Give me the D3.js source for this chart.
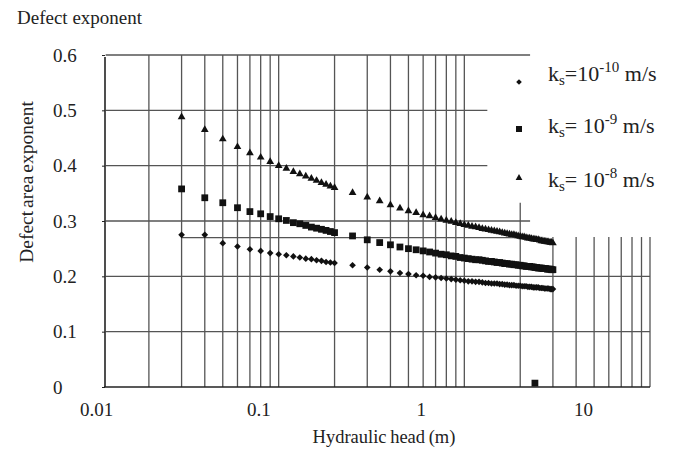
<!DOCTYPE html>
<html>
<head>
<meta charset="utf-8">
<script src="https://cdn.jsdelivr.net/npm/d3@7"></script>
<style>
  body { margin: 0; background: #fff; }
  text { font-family: "Liberation Serif", "Times New Roman", serif; fill: #222; }
</style>
</head>
<body>
<script>

//******************************************************************************
// Data ************************************************************************

    // hydraulic head (m)
    var headValues = [
      0.03,0.04,0.05,0.06,0.07,0.08,0.09,0.10,
      0.11,0.12,0.13,0.14,0.15,0.16,0.17,0.18,0.19,0.20,
      0.25,0.30,0.35,0.40,0.45,0.50,0.55,0.60,0.65,0.70,0.75,0.80,0.85,0.90,0.95,1.00,
      1.05,1.10,1.15,1.20,1.25,1.30,1.35,1.40,1.45,1.50,1.55,1.60,1.65,1.70,1.75,1.80,1.85,1.90,1.95,2.00,
      2.05,2.10,2.15,2.20,2.25,2.30,2.35,2.40,2.45,2.50,2.55,2.60,2.65,2.70,2.75,2.80,2.85,2.90,2.95,3.00
    ];

    // defect area exponent, ks = 1e-10 m/s
    var exponentKs10 = [
      0.275,0.275,0.260,0.254,0.249,0.246,0.242,0.240,
      0.238,0.236,0.234,0.232,0.231,0.229,0.228,0.226,0.225,0.224,
      0.220,0.216,0.212,0.209,0.206,0.204,0.202,0.201,0.199,0.198,0.197,0.196,0.195,0.194,0.193,0.192,
      0.191,0.191,0.190,0.190,0.189,0.188,0.188,0.187,0.187,0.187,0.186,0.186,0.185,0.185,0.184,0.184,0.184,0.183,0.183,0.183,
      0.182,0.182,0.182,0.181,0.181,0.181,0.180,0.180,0.180,0.180,0.179,0.179,0.179,0.178,0.178,0.178,0.178,0.177,0.177,0.177
    ];

    // ks = 1e-9 m/s
    var exponentKs9 = [
      0.358,0.342,0.333,0.324,0.317,0.313,0.308,0.304,
      0.301,0.297,0.295,0.292,0.289,0.287,0.285,0.283,0.281,0.279,
      0.273,0.266,0.261,0.257,0.253,0.250,0.248,0.246,0.244,0.242,0.240,0.239,0.237,0.236,0.234,0.233,
      0.232,0.231,0.230,0.230,0.229,0.228,0.227,0.227,0.226,0.225,0.225,0.224,0.223,0.223,0.222,0.222,0.221,0.221,0.220,0.220,
      0.219,0.219,0.218,0.218,0.218,0.217,0.217,0.216,0.216,0.215,0.215,0.215,0.214,0.214,0.214,0.213,0.213,0.213,0.212,0.212
    ];

    // ks = 1e-8 m/s
    var exponentKs8 = [
      0.488,0.465,0.448,0.434,0.423,0.415,0.407,0.400,
      0.395,0.389,0.385,0.381,0.377,0.373,0.369,0.366,0.363,0.360,
      0.351,0.343,0.336,0.329,0.323,0.318,0.315,0.311,0.309,0.306,0.303,0.301,0.299,0.297,0.295,0.293,
      0.292,0.290,0.289,0.288,0.286,0.285,0.284,0.283,0.282,0.281,0.280,0.279,0.278,0.277,0.276,0.275,0.275,0.274,0.273,0.272,
      0.271,0.271,0.270,0.269,0.269,0.268,0.267,0.267,0.266,0.266,0.265,0.264,0.264,0.263,0.263,0.262,0.262,0.261,0.261,0.260
    ];

    // lone square near the x axis
    var strayHead = [2.4];
    var strayExponent = [0.007];

    var seriesExponents = ["-10", "-9", "-8"];
    var seriesPrefix = ["=10", "= 10", "= 10"];

    var yTickValues = [0, 0.1, 0.2, 0.3, 0.4, 0.5, 0.6];
    var xTickValues = [0.01, 0.1, 1, 10];
    var xTickLabels = ["0.01", "0.1", "1", "10"];

    // vertical grid lines (head) and how high each one reaches (exponent)
    var vGridHead = [0.02,0.03,0.04,0.05,0.06,0.07,0.08,0.09,0.1,
                     0.2,0.3,0.4,0.5,0.6,0.7,0.8,0.9,1,
                     2,3,4,5,6,7,8,9,10];
    var vGridTop = [0.6,0.6,0.6,0.6,0.6,0.6,0.6,0.6,0.6,
                    0.6,0.6,0.6,0.6,0.6,0.6,0.6,0.6,0.6,
                    0.333,0.271,0.271,0.271,0.271,0.271,0.271,0.271,0.271];

    // horizontal grid lines (exponent) and their head extents
    var hGridExponent = [0.1, 0.2, 0.27, 0.3, 0.4, 0.5, 0.6];
    var hGridFrom = [0.0117, 0.0117, 0.03, 0.0117, 0.0117, 0.0117, 0.0117];
    var hGridTo = [10, 10, 2.26, 2.26, 1.33, 1.33, 2.26];


//******************************************************************************
// Settings ********************************************************************

    var windowSettings = {
        width : 682,
        height : 450,
    };

    var graphSettings = {
        left : 105,
        top : 55,
        bottom : 387,
        gridRight : 650,
        labelLeft : 96,   // where the 0.01 label sits
        labelRight : 583, // where the 10 label sits
        gridColor : "#555",
        axisColor : "#222",
    };


//******************************************************************************
// Initialization **************************************************************

    var svg = d3.select("body").append("svg")
        .attr("width", windowSettings.width)
        .attr("height", windowSettings.height);

    // grid/points scale (log, 0.01 .. 10)
    var x = d3.scaleLog()
        .domain([0.01, 10])
        .range([93, graphSettings.gridRight]);

    // the printed tick labels sit on a slightly tighter decade than the grid
    var xLabel = d3.scaleLog()
        .domain([0.01, 10])
        .range([graphSettings.labelLeft, graphSettings.labelRight]);

    var y = d3.scaleLinear()
        .domain([0, 0.6])
        .range([graphSettings.bottom, graphSettings.top]);

    // diamond = square turned 45deg, flatter than d3's own diamond
    var diamond = {
        draw : function(ctx, size){
            var r = Math.sqrt(size / 2);
            ctx.moveTo(0, -r); ctx.lineTo(r, 0); ctx.lineTo(0, r); ctx.lineTo(-r, 0); ctx.closePath();
        }
    };


//******************************************************************************
// Prog ************************************************************************

    drawGrid();
    drawAxes();
    drawSeries();
    drawLegend();
    drawTitles();


//******************************************************************************
// Functions *******************************************************************

    function drawGrid(){

        var g = svg.append("g").attr("class", "grid");

        g.selectAll("line.v")
          .data(vGridHead)
          .join("line")
          .attr("class", "v")
          .attr("x1", d => x(d)).attr("x2", d => x(d))
          .attr("y1", (d, i) => y(vGridTop[i]))
          .attr("y2", y(0))
          .style("stroke", graphSettings.gridColor)
          .style("stroke-width", 1.3);

        g.selectAll("line.h")
          .data(hGridExponent)
          .join("line")
          .attr("class", "h")
          .attr("x1", (d, i) => x(hGridFrom[i]))
          .attr("x2", (d, i) => x(hGridTo[i]))
          .attr("y1", d => y(d)).attr("y2", d => y(d))
          .style("stroke", graphSettings.gridColor)
          .style("stroke-width", 1.3);
    }


    function drawAxes(){

        // left axis, labels pushed out and left aligned
        var yAxis = svg.append("g")
          .attr("transform", "translate(" + graphSettings.left + ",0)")
          .call(d3.axisLeft(y).tickValues(yTickValues).tickSize(3).tickFormat(d3.format("")));

        yAxis.select(".domain").attr("d", "M0," + (y(0.6) + 2) + "V" + y(0))
          .style("stroke", graphSettings.axisColor).style("stroke-width", 1.6);
        yAxis.selectAll(".tick line").style("stroke", graphSettings.axisColor);
        yAxis.selectAll(".tick text")
          .attr("x", -52)
          .attr("text-anchor", "start")
          .attr("dy", "0.32em")
          .style("font-size", "19px")
          .style("font-family", "Liberation Serif, serif");

        // bottom line
        svg.append("line")
          .attr("x1", graphSettings.left - 1).attr("x2", graphSettings.gridRight)
          .attr("y1", y(0)).attr("y2", y(0))
          .style("stroke", graphSettings.axisColor)
          .style("stroke-width", 1.6);

        var xAxis = svg.append("g")
          .attr("transform", "translate(0," + y(0) + ")")
          .call(d3.axisBottom(xLabel).tickValues(xTickValues).tickSize(0)
                  .tickFormat((d, i) => xTickLabels[i]));

        xAxis.select(".domain").remove();
        xAxis.selectAll(".tick text")
          .attr("y", 29)
          .attr("dy", 0)
          .style("font-size", "19px")
          .style("font-family", "Liberation Serif, serif");
    }


    function drawSeries(){

        var series = [
          { values : exponentKs10, symbol : diamond, size : 22 },
          { values : exponentKs9, symbol : d3.symbolSquare, size : 46 },
          { values : exponentKs8, symbol : d3.symbolTriangle, size : 26 },
        ];

        series.forEach(s => {
            svg.append("g").selectAll("path")
              .data(headValues)
              .join("path")
              .attr("transform", (d, i) => "translate(" + x(d) + "," + y(s.values[i]) + ")")
              .attr("d", d3.symbol().type(s.symbol).size(s.size))
              .style("fill", "#111");
        });

        svg.append("g").selectAll("path")
          .data(strayHead)
          .join("path")
          .attr("transform", (d, i) => "translate(" + x(d) + "," + y(strayExponent[i]) + ")")
          .attr("d", d3.symbol().type(d3.symbolSquare).size(46))
          .style("fill", "#111");
    }


    function drawLegend(){

        var symbols = [diamond, d3.symbolSquare, d3.symbolTriangle];
        var sizes = [16, 36, 20];
        var markY = [82, 129, 178];
        var textY = [81, 133, 187];

        var lg = svg.append("g").attr("class", "legend");

        seriesExponents.forEach((e, i) => {

            lg.append("path")
              .attr("transform", "translate(519," + markY[i] + ")")
              .attr("d", d3.symbol().type(symbols[i]).size(sizes[i]))
              .style("fill", "#111");

            var t = lg.append("text")
              .attr("x", 548)
              .attr("y", textY[i])
              .style("font-size", "22px");

            t.append("tspan").text("k");
            t.append("tspan").attr("dy", 4).style("font-size", "15px").text("s");
            t.append("tspan").attr("dy", -4).text(seriesPrefix[i]);
            t.append("tspan").attr("dy", -9).style("font-size", "15px").text(e);
            t.append("tspan").attr("dy", 9).text(" m/s");
        });
    }


    function drawTitles(){

        svg.append("text")
          .attr("x", 17)
          .attr("y", 24)
          .style("font-size", "19px")
          .text("Defect exponent");

        svg.append("text")
          .attr("x", 384)
          .attr("y", 443)
          .attr("text-anchor", "middle")
          .style("font-size", "18.5px")
          .style("word-spacing", "-1px")
          .text("Hydraulic head (m)");

        svg.append("text")
          .attr("transform", "translate(33,182) rotate(-90)")
          .attr("text-anchor", "middle")
          .style("font-size", "19.5px")
          .style("word-spacing", "-2px")
          .text("Defect area exponent");
    }

</script>
</body>
</html>
